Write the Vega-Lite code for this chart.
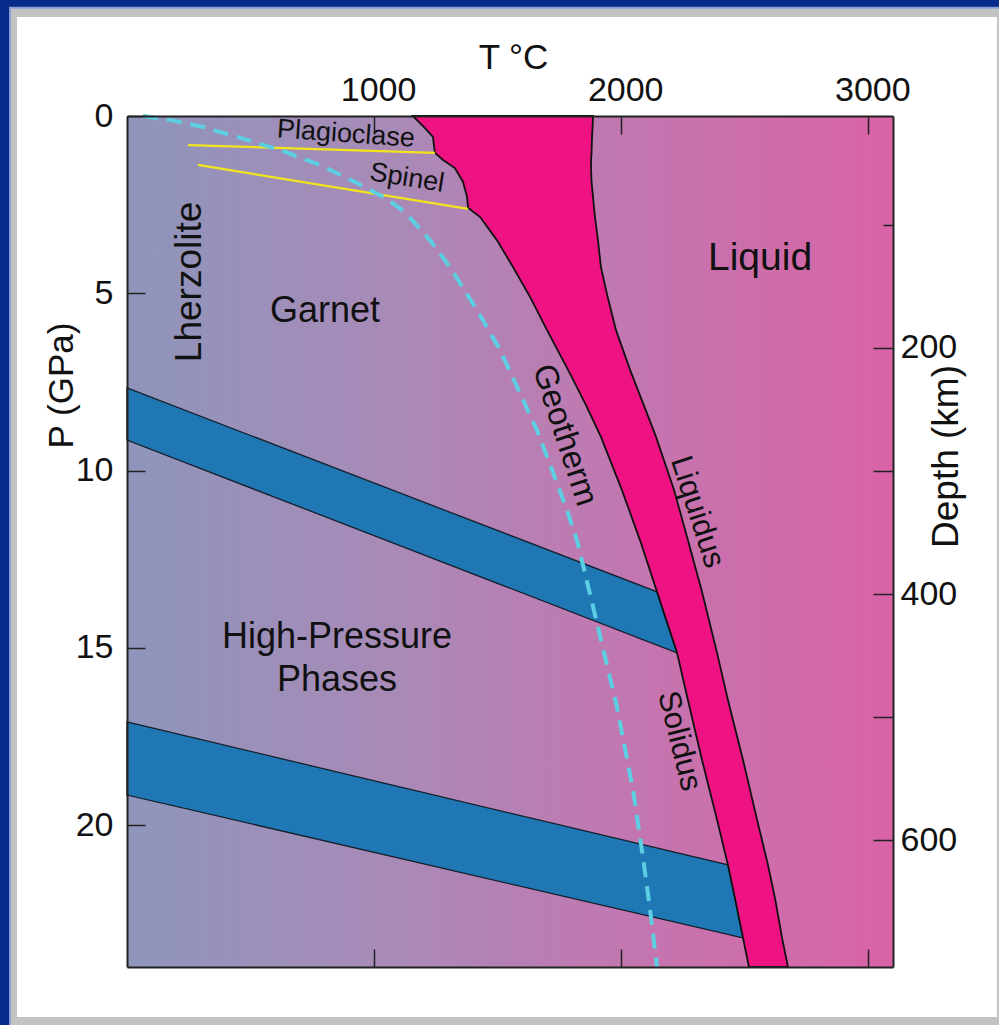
{
  "$schema": "https://vega.github.io/schema/vega-lite/v6.json",
  "width": 766,
  "height": 851,
  "autosize": "none",
  "padding": {"left": 127, "top": 116, "right": 106, "bottom": 58},
  "background": "#06298a",
  "config": {
    "font": "Liberation Sans",
    "view": {"stroke": null},
    "axis": {
      "grid": false,
      "domainColor": "#222222",
      "domainWidth": 2,
      "tickColor": "#222222",
      "tickWidth": 1.5,
      "labelColor": "#111111",
      "titleColor": "#111111",
      "labelFont": "Liberation Sans",
      "titleFont": "Liberation Sans",
      "labelFontSize": 34,
      "titleFontSize": 35,
      "titleFontWeight": "normal",
      "labelFlush": false,
      "labelOverlap": false
    }
  },
  "datasets": {
    "melt": [
      {"P": 0.00, "solidus": 1157, "liquidus": 1886},
      {"P": 0.34, "solidus": 1206, "liquidus": 1884},
      {"P": 0.59, "solidus": 1238, "liquidus": 1882},
      {"P": 1.04, "solidus": 1246, "liquidus": 1880},
      {"P": 1.24, "solidus": 1279, "liquidus": 1878},
      {"P": 1.47, "solidus": 1327, "liquidus": 1878},
      {"P": 1.86, "solidus": 1360, "liquidus": 1880},
      {"P": 2.28, "solidus": 1376, "liquidus": 1886},
      {"P": 2.59, "solidus": 1380, "liquidus": 1890},
      {"P": 2.85, "solidus": 1429, "liquidus": 1894},
      {"P": 3.50, "solidus": 1497, "liquidus": 1906},
      {"P": 4.26, "solidus": 1562, "liquidus": 1918},
      {"P": 5.10, "solidus": 1631, "liquidus": 1945},
      {"P": 6.04, "solidus": 1700, "liquidus": 1979},
      {"P": 7.16, "solidus": 1785, "liquidus": 2036},
      {"P": 8.09, "solidus": 1853, "liquidus": 2088},
      {"P": 9.05, "solidus": 1918, "liquidus": 2141},
      {"P": 10.55, "solidus": 2003, "liquidus": 2214},
      {"P": 11.96, "solidus": 2076, "liquidus": 2270},
      {"P": 13.42, "solidus": 2145, "liquidus": 2327},
      {"P": 15.14, "solidus": 2226, "liquidus": 2388},
      {"P": 16.47, "solidus": 2270, "liquidus": 2432},
      {"P": 18.16, "solidus": 2327, "liquidus": 2493},
      {"P": 19.85, "solidus": 2388, "liquidus": 2550},
      {"P": 21.12, "solidus": 2432, "liquidus": 2594},
      {"P": 22.08, "solidus": 2461, "liquidus": 2623},
      {"P": 23.18, "solidus": 2493, "liquidus": 2651},
      {"P": 24.00, "solidus": 2517, "liquidus": 2675}
    ],
    "bands": [
      {"band": "upper", "T": 0, "Ptop": 7.67, "Pbot": 9.14},
      {"band": "upper", "T": 2145, "Ptop": 13.42, "Pbot": 14.92},
      {"band": "upper", "T": 2185, "Ptop": 14.27, "Pbot": 15.03},
      {"band": "upper", "T": 2226, "Ptop": 15.14, "Pbot": 15.14},
      {"band": "lower", "T": 0, "Ptop": 17.09, "Pbot": 19.15},
      {"band": "lower", "T": 2432, "Ptop": 21.12, "Pbot": 23.08},
      {"band": "lower", "T": 2461, "Ptop": 22.08, "Pbot": 23.13},
      {"band": "lower", "T": 2493, "Ptop": 23.18, "Pbot": 23.18}
    ],
    "geotherm": [
      {"T": 65, "P": 0.00},
      {"T": 174, "P": 0.11},
      {"T": 308, "P": 0.31},
      {"T": 445, "P": 0.59},
      {"T": 619, "P": 0.96},
      {"T": 781, "P": 1.38},
      {"T": 931, "P": 1.89},
      {"T": 1052, "P": 2.34},
      {"T": 1125, "P": 2.71},
      {"T": 1226, "P": 3.50},
      {"T": 1307, "P": 4.26},
      {"T": 1416, "P": 5.47},
      {"T": 1510, "P": 6.60},
      {"T": 1590, "P": 7.81},
      {"T": 1659, "P": 8.86},
      {"T": 1720, "P": 9.98},
      {"T": 1773, "P": 10.97},
      {"T": 1821, "P": 11.96},
      {"T": 1902, "P": 14.30},
      {"T": 1983, "P": 16.67},
      {"T": 2048, "P": 19.01},
      {"T": 2088, "P": 20.90},
      {"T": 2117, "P": 22.39},
      {"T": 2145, "P": 24.00}
    ],
    "phase": [
      {"line": "plagioclase-spinel", "T": 247, "P": 0.82},
      {"line": "plagioclase-spinel", "T": 1246, "P": 1.04},
      {"line": "spinel-garnet", "T": 287, "P": 1.38},
      {"line": "spinel-garnet", "T": 1380, "P": 2.62}
    ],
    "labels": [
      {"label": "Plagioclase", "T": 886, "P": 0.51},
      {"label": "Spinel", "T": 1133, "P": 1.75},
      {"label": "Lherzolite", "T": 255, "P": 4.68},
      {"label": "Garnet", "T": 801, "P": 5.50},
      {"label": "High-Pressure", "T": 850, "P": 14.69},
      {"label": "Phases", "T": 850, "P": 15.91},
      {"label": "Liquid", "T": 2562, "P": 4.00},
      {"label": "Geotherm", "T": 1772, "P": 9.00},
      {"label": "Liquidus", "T": 2307, "P": 11.17},
      {"label": "Solidus", "T": 2234, "P": 17.63}
    ],
    "depth": [
      {"depth": 100}, {"depth": 200}, {"depth": 300}, {"depth": 400}, {"depth": 500}, {"depth": 600}
    ]
  },
  "layer": [
    {
      "layer": [
        {
          "data": {"values": [{}]},
          "mark": {"type": "rect", "fill": "#c3c3c3", "stroke": "#8a9ed6", "strokeWidth": 2},
          "encoding": {
            "x": {"datum": -473.5, "type": "quantitative", "scale": {"domain": [0, 3100], "nice": false, "zero": false}, "axis": null},
            "x2": {"datum": 3573.5},
            "y": {"datum": -3.05, "type": "quantitative", "scale": {"domain": [0, 24], "nice": false, "zero": false, "reverse": true}, "axis": null},
            "y2": {"datum": 26.06}
          }
        },
        {
          "data": {"values": [{}]},
          "mark": {"type": "rect", "fill": "#ffffff"},
          "encoding": {
            "x": {"datum": -445.2, "type": "quantitative", "axis": null},
            "x2": {"datum": 3520.9},
            "y": {"datum": -2.79, "type": "quantitative", "axis": null},
            "y2": {"datum": 25.41}
          }
        },
        {
          "data": {"values": [{}]},
          "mark": {
            "type": "rect",
            "fill": {
              "gradient": "linear", "x1": 0, "y1": 0, "x2": 1, "y2": 0,
              "stops": [
                {"offset": 0, "color": "#8e95bb"},
                {"offset": 0.35, "color": "#a98ab7"},
                {"offset": 0.65, "color": "#c277b0"},
                {"offset": 1, "color": "#d963a6"}
              ]
            }
          },
          "encoding": {
            "x": {
              "datum": 0, "type": "quantitative",
              "axis": {
                "orient": "top", "values": [1000, 2000, 3000], "format": "d", "tickSize": -18, "labelPadding": 27, "labelOffset": 4, "zindex": 2,
                "title": "T °C", "titleX": 386, "titleY": -48, "titleBaseline": "alphabetic", "titleAlign": "center", "titleAngle": 0
              }
            },
            "x2": {"datum": 3100},
            "y": {
              "datum": 0, "type": "quantitative",
              "axis": {
                "orient": "left", "values": [0, 5, 10, 15, 20], "format": "d", "tickSize": -18, "labelPadding": 32, "zindex": 2,
                "title": "P (GPa)", "titleX": -55, "titleY": 269, "titleBaseline": "alphabetic", "titleAlign": "center", "titleAngle": -90
              }
            },
            "y2": {"datum": 24}
          }
        },
        {
          "data": {"name": "bands"},
          "mark": {"type": "area", "fill": "#1f77b4", "stroke": "#16202c", "strokeWidth": 1.3, "fillOpacity": 1},
          "encoding": {
            "x": {"field": "T", "type": "quantitative", "axis": null},
            "y": {"field": "Ptop", "type": "quantitative", "axis": null},
            "y2": {"field": "Pbot"},
            "detail": {"field": "band"}
          }
        },
        {
          "data": {"name": "melt"},
          "mark": {"type": "area", "orient": "horizontal", "fill": "#ee1283", "stroke": "#111111", "strokeWidth": 1.8, "fillOpacity": 1},
          "encoding": {
            "y": {"field": "P", "type": "quantitative", "axis": null},
            "x": {"field": "solidus", "type": "quantitative", "axis": null},
            "x2": {"field": "liquidus"}
          }
        },
        {
          "data": {"name": "phase"},
          "mark": {"type": "line", "color": "#f2e41c", "strokeWidth": 2.2},
          "encoding": {
            "x": {"field": "T", "type": "quantitative", "axis": null},
            "y": {"field": "P", "type": "quantitative", "axis": null},
            "detail": {"field": "line"}
          }
        },
        {
          "data": {"name": "geotherm"},
          "mark": {"type": "line", "color": "#5ccfe2", "strokeWidth": 4, "strokeDash": [15, 9]},
          "encoding": {
            "x": {
              "field": "T", "type": "quantitative",
              "axis": {"orient": "bottom", "values": [1000, 2000, 3000], "tickSize": -18, "labels": false, "title": null, "zindex": 2}
            },
            "y": {"field": "P", "type": "quantitative", "axis": null},
            "order": {"field": "P"}
          }
        },
        {
          "data": {"name": "labels"},
          "transform": [{"filter": {"field": "label", "oneOf": ["Garnet", "High-Pressure", "Phases"]}}],
          "mark": {"type": "text", "fontSize": 36, "color": "#111111", "align": "center", "baseline": "middle"},
          "encoding": {
            "x": {"field": "T", "type": "quantitative", "axis": null},
            "y": {"field": "P", "type": "quantitative", "axis": null},
            "text": {"field": "label"}
          }
        },
        {
          "data": {"name": "labels"},
          "transform": [{"filter": {"field": "label", "equal": "Liquid"}}],
          "mark": {"type": "text", "fontSize": 39, "color": "#111111", "align": "center", "baseline": "middle"},
          "encoding": {
            "x": {"field": "T", "type": "quantitative", "axis": null},
            "y": {"field": "P", "type": "quantitative", "axis": null},
            "text": {"field": "label"}
          }
        },
        {
          "data": {"name": "labels"},
          "transform": [{"filter": {"field": "label", "equal": "Lherzolite"}}],
          "mark": {"type": "text", "fontSize": 37, "angle": 270, "color": "#111111", "align": "center", "baseline": "middle"},
          "encoding": {
            "x": {"field": "T", "type": "quantitative", "axis": null},
            "y": {"field": "P", "type": "quantitative", "axis": null},
            "text": {"field": "label"}
          }
        },
        {
          "data": {"name": "labels"},
          "transform": [{"filter": {"field": "label", "equal": "Plagioclase"}}],
          "mark": {"type": "text", "fontSize": 27, "angle": 4, "color": "#111111", "align": "center", "baseline": "middle"},
          "encoding": {
            "x": {"field": "T", "type": "quantitative", "axis": null},
            "y": {"field": "P", "type": "quantitative", "axis": null},
            "text": {"field": "label"}
          }
        },
        {
          "data": {"name": "labels"},
          "transform": [{"filter": {"field": "label", "equal": "Spinel"}}],
          "mark": {"type": "text", "fontSize": 27, "angle": 9, "color": "#111111", "align": "center", "baseline": "middle"},
          "encoding": {
            "x": {"field": "T", "type": "quantitative", "axis": null},
            "y": {"field": "P", "type": "quantitative", "axis": null},
            "text": {"field": "label"}
          }
        },
        {
          "data": {"name": "labels"},
          "transform": [{"filter": {"field": "label", "equal": "Geotherm"}}],
          "mark": {"type": "text", "fontSize": 33, "angle": 72, "color": "#111111", "align": "center", "baseline": "middle"},
          "encoding": {
            "x": {"field": "T", "type": "quantitative", "axis": null},
            "y": {"field": "P", "type": "quantitative", "axis": null},
            "text": {"field": "label"}
          }
        },
        {
          "data": {"name": "labels"},
          "transform": [{"filter": {"field": "label", "equal": "Liquidus"}}],
          "mark": {"type": "text", "fontSize": 31, "angle": 72, "color": "#111111", "align": "center", "baseline": "middle"},
          "encoding": {
            "x": {"field": "T", "type": "quantitative", "axis": null},
            "y": {"field": "P", "type": "quantitative", "axis": null},
            "text": {"field": "label"}
          }
        },
        {
          "data": {"name": "labels"},
          "transform": [{"filter": {"field": "label", "equal": "Solidus"}}],
          "mark": {"type": "text", "fontSize": 31, "angle": 76, "color": "#111111", "align": "center", "baseline": "middle"},
          "encoding": {
            "x": {"field": "T", "type": "quantitative", "axis": null},
            "y": {"field": "P", "type": "quantitative", "axis": null},
            "text": {"field": "label"}
          }
        }
      ],
      "resolve": {"axis": {"x": "independent", "y": "independent"}}
    },
    {
      "data": {"name": "depth"},
      "mark": {"type": "rule", "opacity": 0},
      "encoding": {
        "y": {
          "field": "depth", "type": "quantitative",
          "scale": {"domain": [11.5, 703], "nice": false, "zero": false, "reverse": true},
          "axis": {
            "orient": "right", "values": [100, 200, 300, 400, 500, 600],
            "tickSize": {"condition": {"test": "datum.value == 100", "value": -10}, "value": -20},
            "labelPadding": 27, "zindex": 2,
            "labelExpr": "datum.value % 200 == 0 ? datum.label : ''",
            "title": "Depth (km)", "titleFontSize": 37, "titleX": 64, "titleY": 340, "titleBaseline": "alphabetic", "titleAlign": "center", "titleAngle": -90
          }
        }
      }
    }
  ],
  "resolve": {"scale": {"y": "independent"}, "axis": {"x": "independent", "y": "independent"}}
}
